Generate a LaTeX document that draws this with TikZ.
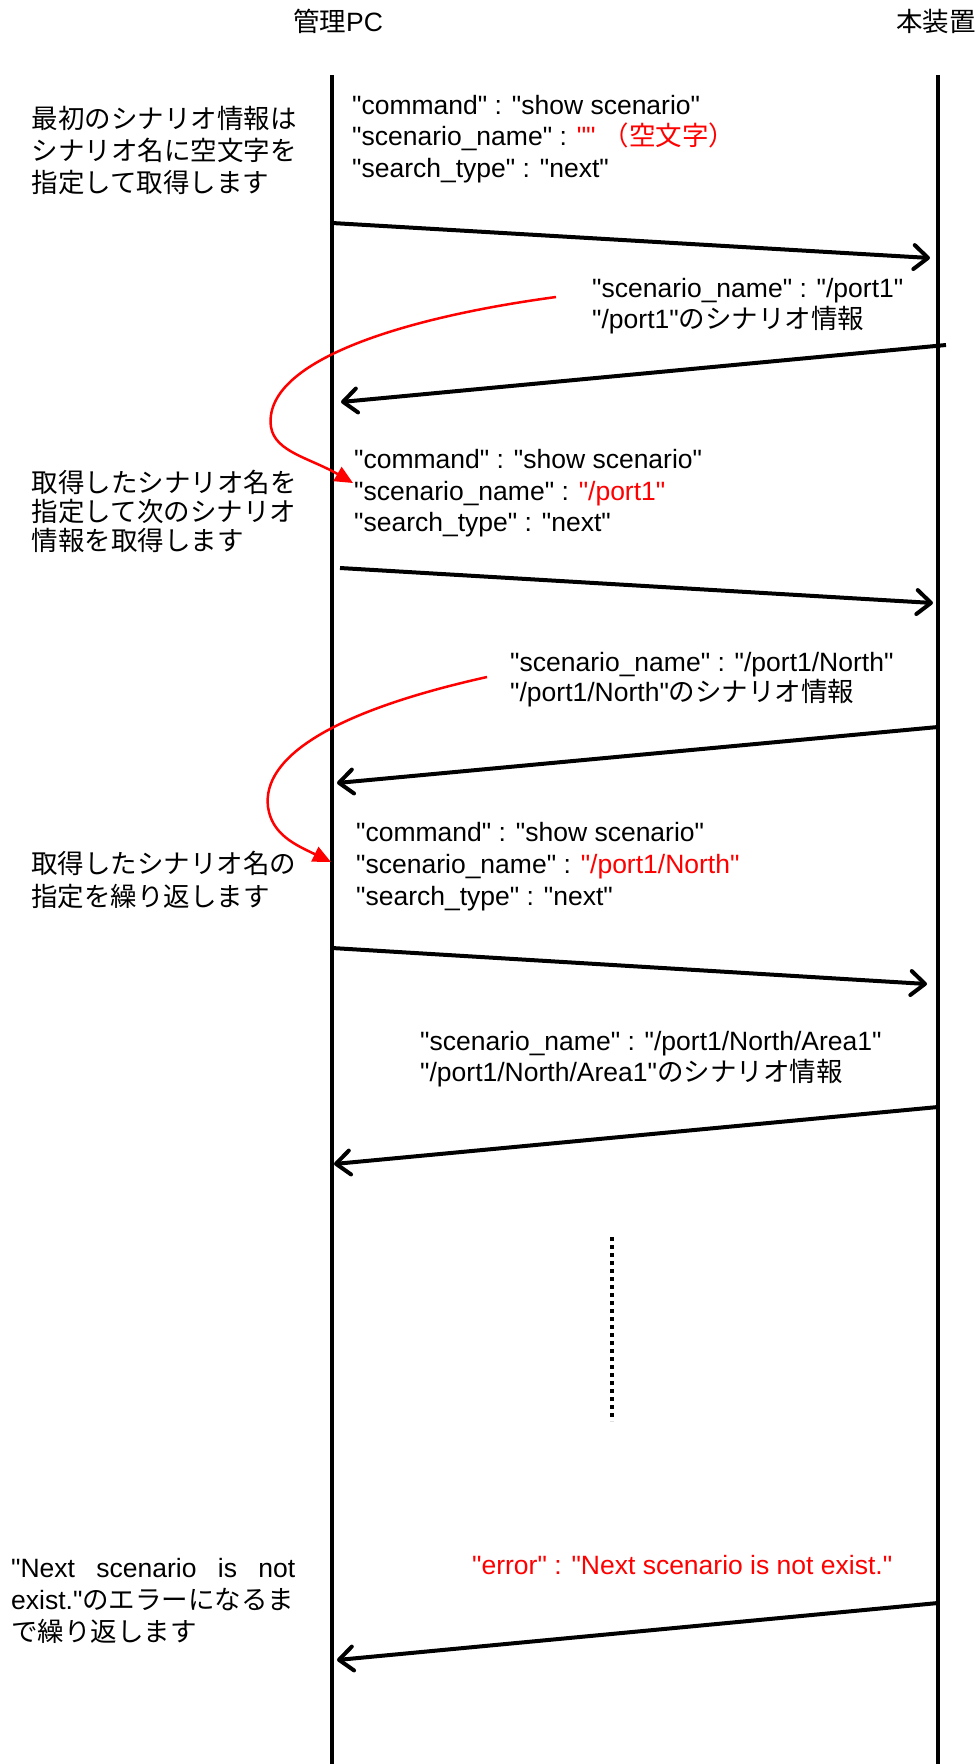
\documentclass[tikz,border=0pt]{standalone}
\usepackage{fontspec}
\newfontfamily\latf{Liberation Sans}
\newfontfamily\jpf{Noto Sans CJK JP}
\newcommand{\jt}[1]{{\jpf #1}}
\usetikzlibrary{arrows.meta}
\begin{document}
\begin{tikzpicture}[x=1pt,y=-1pt,
  txt/.style={anchor=base west, inner sep=0pt, font=\latf\fontsize{26.5pt}{31pt}\selectfont},
  life/.style={line width=3.4pt},
  msg/.style={line width=4pt, -{Straight Barb[length=14pt,width=24pt,round]}},
  redarr/.style={red, line width=2.5pt, -{Triangle[length=18pt,width=16pt]}},
  dots/.style={line width=4pt, dash pattern=on 4pt off 4pt}]
\path[fill=white, use as bounding box] (0,0) rectangle (977,1764);

% headers
\node[txt, anchor=base] (hpc) at (338,31) {\jt{管理}PC};
\node[txt, anchor=base] (hdev) at (936,31) {\jt{本装置}};

% lifelines
\coordinate (pcT) at (332,75);
\coordinate (pcB) at (332,1764);
\coordinate (devT) at (938,75);
\coordinate (devB) at (938,1764);
\draw[life] (pcT) -- (pcB);
\draw[life] (devT) -- (devB);

% block 1
\node[txt] (b1a) at (352,114) {"command" : "show scenario"};
\node[txt] (b1b) at (352,145.5) {"scenario\_name" : \textcolor{red}{""\ \jt{（空文字）}}};
\node[txt] (b1c) at (352,177) {"search\_type" : "next"};
\node[txt] (l1a) at (31.5,128) {\jt{最初のシナリオ情報は}};
\node[txt] (l1b) at (31.5,160) {\jt{シナリオ名に空文字を}};
\node[txt] (l1c) at (31.5,192) {\jt{指定して取得します}};

\coordinate (a1s) at (332,223);
\coordinate (a1e) at (930,258);
\draw[msg] (a1s) -- (a1e);

\node[txt] (r1a) at (592,297) {"scenario\_name" : "/port1"};
\node[txt] (r1b) at (592,328.5) {"/port1"\jt{のシナリオ情報}};
\coordinate (r1s) at (946,345);
\coordinate (r1e) at (341,402);
\draw[msg] (r1s) -- (r1e);

% red curve 1
\coordinate (c1s) at (556,297);
\coordinate (c1m) at (271,427);
\coordinate (c1e) at (353,483);
\draw[redarr] (c1s) .. controls (400,318) and (262,362) .. (c1m)
  .. controls (275,452) and (310,458) .. (c1e);

% block 2
\node[txt] (b2a) at (354,468) {"command" : "show scenario"};
\node[txt] (b2b) at (354,500) {"scenario\_name" : \textcolor{red}{"/port1"}};
\node[txt] (b2c) at (354,531.5) {"search\_type" : "next"};
\node[txt] (l2a) at (31.7,492) {\jt{取得したシナリオ名を}};
\node[txt] (l2b) at (31.7,521) {\jt{指定して次のシナリオ}};
\node[txt] (l2c) at (31.7,550) {\jt{情報を取得します}};

\coordinate (a2s) at (340,568);
\coordinate (a2e) at (933,603);
\draw[msg] (a2s) -- (a2e);

\node[txt] (r2a) at (510,671) {"scenario\_name" : "/port1/North"};
\node[txt] (r2b) at (510,701.5) {"/port1/North"\jt{のシナリオ情報}};
\coordinate (r2s) at (938,727);
\coordinate (r2e) at (337,783);
\draw[msg] (r2s) -- (r2e);

% red curve 2
\coordinate (c2s) at (487,677);
\coordinate (c2m) at (268,807);
\coordinate (c2e) at (331,862);
\draw[redarr] (c2s) .. controls (330,712) and (262,758) .. (c2m)
  .. controls (272,835) and (296,845) .. (c2e);

% block 3
\node[txt] (b3a) at (356,841.5) {"command" : "show scenario"};
\node[txt] (b3b) at (356,873.5) {"scenario\_name" : \textcolor{red}{"/port1/North"}};
\node[txt] (b3c) at (356,905.5) {"search\_type" : "next"};
\node[txt] (l3a) at (31,873.5) {\jt{取得したシナリオ名の}};
\node[txt] (l3b) at (31,906.5) {\jt{指定を繰り返します}};

\coordinate (a3s) at (332,948);
\coordinate (a3e) at (927,984);
\draw[msg] (a3s) -- (a3e);

\node[txt] (r3a) at (420,1050.5) {"scenario\_name" : "/port1/North/Area1"};
\node[txt] (r3b) at (420,1081.5) {"/port1/North/Area1"\jt{のシナリオ情報}};
\coordinate (r3s) at (938,1107);
\coordinate (r3e) at (334,1164);
\draw[msg] (r3s) -- (r3e);

% dotted continuation
\coordinate (dT) at (612,1237);
\coordinate (dB) at (612,1421);
\draw[dots] (dT) -- (dB);

% final
\node[txt, text=red] (err) at (472,1574.5) {"error" : "Next scenario is not exist."};
\node[txt] (l4a) at (11,1577.5) {\makebox[284pt][s]{"Next scenario is not}};
\node[txt] (l4b) at (11,1609.5) {exist."\jt{のエラーになるま}};
\node[txt] (l4c) at (11,1641) {\jt{で繰り返します}};
\coordinate (r4s) at (938,1603);
\coordinate (r4e) at (337,1660);
\draw[msg] (r4s) -- (r4e);
\end{tikzpicture}
\end{document}
